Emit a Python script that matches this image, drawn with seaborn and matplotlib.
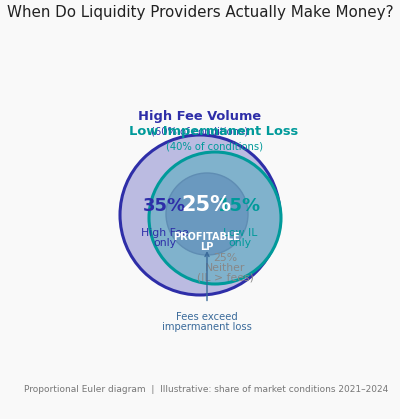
import matplotlib
matplotlib.use("Agg")
import matplotlib.pyplot as plt
from matplotlib.patches import Circle
import seaborn as sns

# data
set_names = ["High Fee Volume", "Low Impermanent Loss"]
set_shares = [60, 40]
region_labels = ["High Fee\nonly", "Low IL\nonly", "PROFITABLE\nLP", "Neither\n(IL > fees)"]
region_shares = [35, 15, 25, 25]

sns.set_theme(style="white")
plt.rcParams['font.family'] = ['DejaVu Sans']

bg = "#f9f9f9"
blue = "#2e2ea8"
teal = "#009a9a"

fig = plt.figure(figsize=(4, 4.19), dpi=100, facecolor=bg)
ax = fig.add_axes([0, 0, 1, 1])
ax.set_facecolor(bg)
ax.set_xlim(0, 400)
ax.set_ylim(419, 0)
ax.axis("off")

# circles (pixel layout)
ax.add_patch(Circle((200, 215), 80, facecolor="#bbbbe1", edgecolor=blue, lw=2.2, zorder=1))
ax.add_patch(Circle((215, 218), 66, facecolor="#80b2cc", edgecolor=teal, lw=2.2, zorder=2))
ax.add_patch(Circle((207, 214), 41, facecolor="#6a99bf", edgecolor="#5f8db3", lw=1, zorder=3))

# set labels
ax.text(200, 116, set_names[0], ha="center", va="center", fontsize=9.4, fontweight="bold", color=blue, zorder=5)
ax.text(200, 131, f"({set_shares[0]}% of conditions)", ha="center", va="center", fontsize=7.2, color=blue, zorder=5)
ax.text(214, 131, set_names[1], ha="center", va="center", fontsize=9.4, fontweight="bold", color=teal, zorder=6)
ax.text(214, 146, f"({set_shares[1]}% of conditions)", ha="center", va="center", fontsize=7.2, color=teal, zorder=6)

# region labels
ax.text(164, 206, f"{region_shares[0]}%", ha="center", va="center", fontsize=13, fontweight="bold", color=blue, zorder=6)
ax.text(165, 238, region_labels[0], ha="center", va="center", fontsize=7.8, color=blue, linespacing=0.95, zorder=6)
ax.text(240, 206, f"{region_shares[1]}%", ha="center", va="center", fontsize=13, fontweight="bold", color=teal, zorder=6)
ax.text(240, 238, region_labels[1], ha="center", va="center", fontsize=7.8, color=teal, linespacing=0.95, zorder=6)
ax.text(206, 205, f"{region_shares[2]}%", ha="center", va="center", fontsize=15, fontweight="bold", color="white", zorder=7)
ax.text(207, 242, region_labels[2], ha="center", va="center", fontsize=7, fontweight="bold", color="white", linespacing=1.0, zorder=7)
ax.text(225, 268, f"{region_shares[3]}%\n{region_labels[3]}", ha="center", va="center", fontsize=7.8, color="#888888", linespacing=0.95, zorder=6)

# annotation
ax.annotate("Fees exceed\nimpermanent loss", xy=(207, 251), xytext=(207, 322),
            ha="center", va="center", fontsize=7.2, color="#3a6a9a", linespacing=0.95,
            arrowprops=dict(arrowstyle="->", color="#3a6a9a", lw=1, shrinkA=6, shrinkB=0), zorder=8)

ax.text(200, 13, "When Do Liquidity Providers Actually Make Money?", ha="center", va="center", fontsize=10.9, color="#222222")
ax.text(206, 389, "Proportional Euler diagram  |  Illustrative: share of market conditions 2021\u20132024",
        ha="center", va="center", fontsize=6.45, color="#777777")

fig.savefig("out.png", dpi=100, facecolor=bg)
